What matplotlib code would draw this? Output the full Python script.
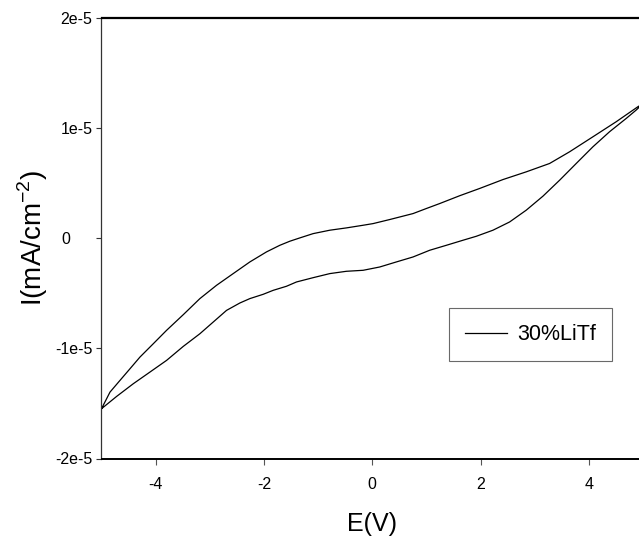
import matplotlib
matplotlib.use("Agg")

import matplotlib.pyplot as plt
import matplotlib.transforms as mtransforms

plt.rcParams["font.family"] = ["Liberation Sans", "DejaVu Sans"]
plt.rcParams["mathtext.fontset"] = "custom"
plt.rcParams["mathtext.rm"] = "Liberation Sans"

# cyclic voltammogram, 30% LiTf electrolyte (current in units of 1e-5)
# anodic sweep (-5 V -> 5 V), lower branch
E_fwd = [-5.0, -4.720, -4.413, -4.105, -3.798, -3.490, -3.183, -2.937, -2.691,
         -2.445, -2.260, -2.014, -1.830, -1.584, -1.399, -1.092, -0.784, -0.477,
         -0.169, 0.138, 0.446, 0.753, 1.061, 1.368, 1.676, 1.922, 2.229, 2.537,
         2.844, 3.152, 3.460, 3.767, 4.074, 4.382, 4.690, 4.874, 5.0]
I_fwd = [-1.548, -1.436, -1.321, -1.215, -1.109, -0.982, -0.867, -0.761, -0.655,
         -0.588, -0.548, -0.509, -0.473, -0.436, -0.397, -0.358, -0.321, -0.300,
         -0.291, -0.261, -0.215, -0.170, -0.109, -0.064, -0.018, 0.018, 0.073, 0.148,
         0.255, 0.382, 0.527, 0.679, 0.830, 0.967, 1.088, 1.164, 1.222]
# cathodic sweep (5 V -> -5 V), upper branch
E_rev = [5.0, 4.905, 4.505, 4.074, 3.644, 3.275, 2.844, 2.414, 1.983, 1.614,
         1.245, 0.999, 0.753, 0.323, 0.015, -0.169, -0.477, -0.784, -1.092, -1.338,
         -1.522, -1.707, -1.953, -2.260, -2.568, -2.875, -3.183, -3.490, -3.798,
         -4.044, -4.290, -4.474, -4.659, -4.843, -5.0]
I_rev = [1.222, 1.194, 1.058, 0.921, 0.785, 0.679, 0.603, 0.533, 0.452, 0.386,
         0.315, 0.270, 0.224, 0.170, 0.133, 0.118, 0.094, 0.073, 0.042, 0.003,
         -0.027, -0.064, -0.124, -0.215, -0.321, -0.427, -0.548, -0.694, -0.836,
         -0.958, -1.079, -1.185, -1.291, -1.397, -1.548]
SCALE = 1e-5

x_ticks = [-4, -2, 0, 2, 4]
x_labels = ["-4", "-2", "0", "2", "4"]
y_ticks = [-2e-5, -1e-5, 0, 1e-5, 2e-5]
y_labels = ["-2e-5", "-1e-5", "0", "1e-5", "2e-5"]

fig = plt.figure(figsize=(6.39, 5.38), dpi=100)
ax = fig.add_axes([101.5 / 639, 1 - 458.5 / 538, 541.5 / 639, 440.5 / 538])

E = E_fwd + E_rev[1:]
I = [v * SCALE for v in I_fwd + I_rev[1:]]
ax.plot(E, I, color="black", lw=0.9, label="30%LiTf")

ax.set_xlim(-5, 5)
ax.set_ylim(-2e-5, 2e-5)
ax.set_xticks(x_ticks)
ax.set_xticklabels(x_labels)
ax.set_yticks(y_ticks)
ax.set_yticklabels(y_labels)
ax.tick_params(axis="x", direction="out", length=4.5, width=0.8, color="#555555",
               labelsize=11.5, pad=9)
ax.tick_params(axis="y", direction="out", length=3.5, width=0.8, color="#333333",
               labelsize=11.5, pad=3)

# the zero label sits further out than the others
for lab in ax.get_yticklabels():
    if lab.get_text() == "0":
        lab.set_transform(lab.get_transform() +
                          mtransforms.ScaledTranslation(-22 / 100, 0, fig.dpi_scale_trans))

ax.spines["right"].set_visible(False)
ax.spines["top"].set_linewidth(1.6)
ax.spines["bottom"].set_linewidth(1.4)
ax.spines["left"].set_linewidth(0.9)
ax.spines["left"].set_color("#333333")

ax.set_xlabel("E(V)", fontsize=18, labelpad=14)
ax.set_ylabel(r"I(mA/cm$^{\mathregular{-2}}$)", fontsize=20, labelpad=4)

leg = ax.legend(loc="upper left", bbox_to_anchor=(449 / 639, 1 - 308 / 538),
                bbox_transform=fig.transFigure, fontsize=15.5, frameon=True,
                fancybox=False, shadow=False, handlelength=1.95,
                handletextpad=0.45, borderpad=0.75, borderaxespad=0)
leg.get_frame().set_edgecolor("#444444")
leg.get_frame().set_linewidth(0.8)

fig.savefig("out.png", dpi=100)
